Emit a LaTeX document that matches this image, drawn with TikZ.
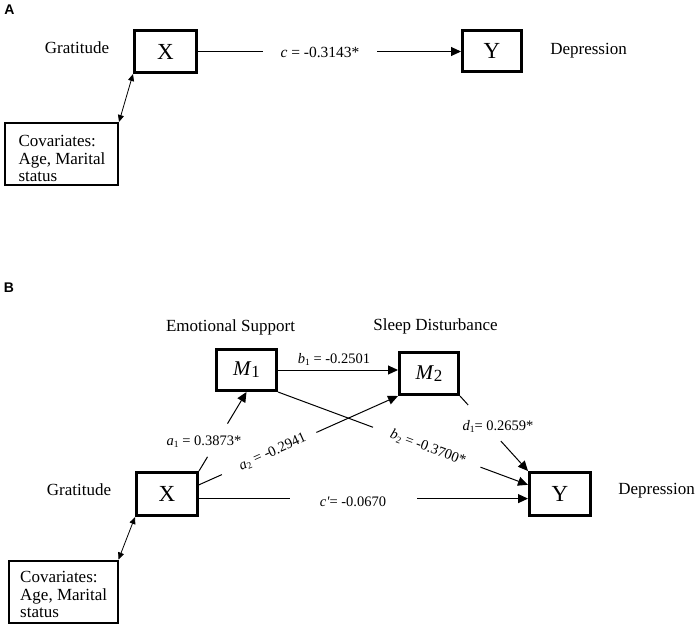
\documentclass[tikz,border=0pt]{standalone}
\usepackage{fontspec}
\setmainfont{Liberation Serif}
\newfontfamily\labelsans{Liberation Sans}
\usetikzlibrary{arrows.meta,calc}
\newcommand\subn[1]{\raisebox{-2pt}{\fontsize{9.5}{9.5}\selectfont #1}}
\newcommand\subM[1]{\raisebox{-2pt}{\fontsize{17}{17}\selectfont #1}}
\begin{document}
\begin{tikzpicture}[x=1pt,y=-1pt,
  varbox/.style={draw, line width=3pt, inner sep=0pt, font=\fontsize{23}{23}\selectfont},
  mbox/.style={varbox, font=\fontsize{21}{21}\selectfont},
  covbox/.style={draw, line width=2pt, inner sep=0pt},
  covtxt/.style={inner sep=0pt, align=left, anchor=north west, font=\fontsize{17}{17.5}\selectfont},
  vname/.style={inner sep=0pt, anchor=base, font=\fontsize{17}{17}\selectfont},
  coef/.style={inner sep=0pt, font=\fontsize{14.5}{14.5}\selectfont},
  coefA/.style={inner sep=0pt, font=\fontsize{15.5}{15.5}\selectfont},
  conn/.style={line width=1pt},
  arr/.style={conn, -{Triangle[length=10pt,width=9pt]}},
  dbl/.style={line width=0.8pt, {Triangle[length=7pt,width=6pt]}-{Triangle[length=7pt,width=6pt]}},
  panel/.style={inner sep=0pt, font=\labelsans\bfseries\fontsize{14}{14}\selectfont}
]
\path[use as bounding box] (0,0) rectangle (700,630);

% ---------------- Panel A ----------------
\node[panel] (pA) at (9.5,10) {A};
\node[varbox, minimum width=62pt, minimum height=42pt] (XA) at (165.5,51.5) {X};
\node[varbox, minimum width=59pt, minimum height=41pt] (YA) at (492,51) {Y};
\node[vname] (gA) at (77,53.3) {Gratitude};
\node[vname] (dA) at (588.5,54) {Depression};
\node[covbox, minimum width=113pt, minimum height=62pt] (covA) at (61.5,154) {};
\node[covtxt] (ctA) at (18.3,135.3) {Covariates:\\Age, Marital\\status};

\path (XA.east) -- coordinate[pos=0.247] (cA1) coordinate[pos=0.681] (cA2) (XA.east -| YA.west);
\draw[conn] (XA.east) -- (cA1);
\draw[arr] (cA2) -- (XA.east -| YA.west);
\node[coefA, anchor=base] (lc) at (320,57.3) {\textit{c} = -0.3143*};
\draw[dbl] (covA.north east) -- (XA.south west);

% ---------------- Panel B ----------------
\node[panel] (pB) at (9,288) {B};
\node[varbox, minimum width=61pt, minimum height=43pt] (XB) at (167,494) {X};
\node[varbox, minimum width=61pt, minimum height=43pt] (YB) at (560,494) {Y};
\node[mbox, minimum width=60pt, minimum height=41pt] (M1) at (246.5,370) {\textit{M}\subM{1}};
\node[mbox, minimum width=59pt, minimum height=42pt] (M2) at (429,373.5) {\textit{M}\subM{2}};
\node[vname] (es) at (230.5,331) {Emotional Support};
\node[vname] (sd) at (435.5,330) {Sleep Disturbance};
\node[vname] (gB) at (79,495.7) {Gratitude};
\node[vname] (dB) at (656.5,494) {Depression};
\node[covbox, minimum width=109pt, minimum height=62pt] (covB) at (63,591.5) {};
\node[covtxt] (ctB) at (20,571.3) {Covariates:\\Age, Marital\\status};
\draw[dbl] (covB.north east) -- (XB.south west);

% b1
\draw[arr] (M1.east) -- (M1.east -| M2.west);
\node[coef, anchor=base] (lb1) at (334,363) {\textit{b}\subn{1} = -0.2501};

% a1
\path (XB.north east) -- coordinate[pos=0.18] (a1s) coordinate[pos=0.6] (a1e) (M1.south);
\draw[conn] (XB.north east) -- (a1s);
\draw[arr] (a1e) -- (M1.south);
\node[coef, anchor=base] (la1) at (204,445.7) {\textit{a}\subn{1} = 0.3873*};

% a2
\coordinate (a2o) at ($(XB.north east)!0.3!(XB.south east)$);
\path (a2o) -- coordinate[pos=0.115] (a2s) coordinate[pos=0.59] (a2e) (M2.south west);
\draw[conn] (a2o) -- (a2s);
\draw[arr] (a2e) -- (M2.south west);
\path (a2o) -- node[coef, sloped, pos=0.37] (la2) {\textit{a}\subn{2} = -0.2941} (M2.south west);

% b2
\coordinate (b2t) at ($(YB.north west)!0.3!(YB.south west)$);
\path (M1.south east) -- coordinate[pos=0.38] (b2s) coordinate[pos=0.81] (b2e) (b2t);
\draw[conn] (M1.south east) -- (b2s);
\draw[arr] (b2e) -- (b2t);
\path (M1.south east) -- node[coef, sloped, pos=0.6] (lb2) {\textit{b}\subn{2} = -0.3700*} (b2t);

% d1
\path (M2.south east) -- coordinate[pos=0.12] (d1s) coordinate[pos=0.6] (d1e) (YB.north west);
\draw[conn] (M2.south east) -- (d1s);
\draw[arr] (d1e) -- (YB.north west);
\node[coef, anchor=base] (ld1) at (498,430) {\textit{d}\subn{1}= 0.2659*};

% c'
\coordinate (cpo) at ($(XB.north east)!0.6!(XB.south east)$);
\path (cpo) -- coordinate[pos=0.277] (cps) coordinate[pos=0.663] (cpe) (cpo -| YB.west);
\draw[conn] (cpo) -- (cps);
\draw[arr] (cpe) -- (cpo -| YB.west);
\node[coef, anchor=base] (lcp) at (353,506) {\textit{c\textquotesingle}= -0.0670};
\end{tikzpicture}
\end{document}
